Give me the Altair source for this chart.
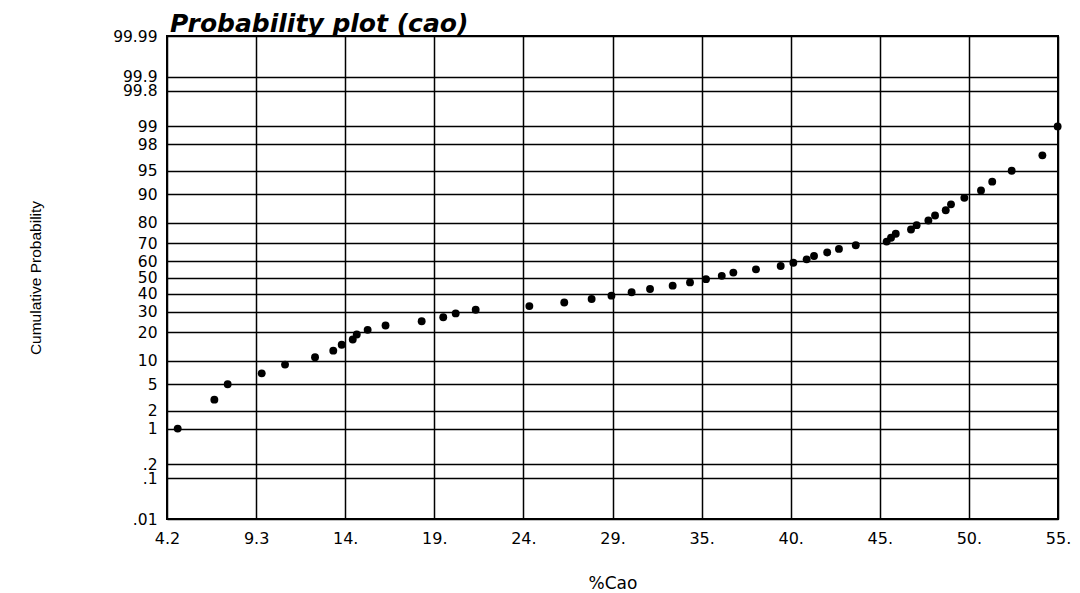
import altair as alt
import pandas as pd
from statistics import NormalDist

# Data (%CaO values and their cumulative probability, %)
cao = [4.81, 6.90, 7.66, 9.60, 10.93, 12.64, 13.68, 14.16, 14.79, 15.02,
       15.64, 16.66, 18.72, 19.95, 20.66, 21.80, 24.86, 26.85, 28.41, 29.54,
       30.69, 31.74, 33.03, 34.02, 34.93, 35.83, 36.49, 37.78, 39.19, 39.91,
       40.67, 41.09, 41.84, 42.51, 43.47, 45.23, 45.48, 45.75, 46.62, 46.94,
       47.61, 47.99, 48.60, 48.90, 49.66, 50.61, 51.25, 52.36, 54.11, 54.98]
cum_prob = [1, 3, 5, 7, 9, 11, 13, 15, 17, 19,
            21, 23, 25, 27, 29, 31, 33, 35, 37, 39,
            41, 43, 45, 47, 49, 51, 53, 55, 57, 59,
            61, 63, 65, 67, 69, 71, 73, 75, 77, 79,
            81, 83, 85, 87, 89, 91, 93, 95, 97, 99]

# Axis ticks
x_ticks = [4.2, 9.28, 14.36, 19.44, 24.52, 29.6, 34.68, 39.76, 44.84, 49.92, 55.0]
x_labels = ["4.2", "9.3", "14.", "19.", "24.", "29.", "35.", "40.", "45.", "50.", "55."]
y_ticks = [0.01, 0.1, 0.2, 1, 2, 5, 10, 20, 30, 40, 50, 60, 70, 80, 90, 95, 98, 99, 99.8, 99.9, 99.99]
y_labels = [".01", ".1", ".2", "1", "2", "5", "10", "20", "30", "40", "50", "60", "70",
            "80", "90", "95", "98", "99", "99.8", "99.9", "99.99"]
title_text = ["Probability plot (cao)"]

nd = NormalDist()
z = [nd.inv_cdf(p / 100.0) for p in cum_prob]
y_tick_z = [nd.inv_cdf(p / 100.0) for p in y_ticks]
zmax = nd.inv_cdf(0.9999)

df = pd.DataFrame({"cao": cao, "prob": cum_prob, "z": z})
tdf = pd.DataFrame({"t": title_text})


def label_expr(vals, labels, tol):
    expr = "''"
    for v, l in reversed(list(zip(vals, labels))):
        expr = f"abs(datum.value - ({v:.5f})) < {tol} ? '{l}' : ({expr})"
    return expr


W, H = 891, 483
LEFT, TOP = 167, 36

points = alt.Chart(df).mark_point(
    filled=True, shape="circle", size=62, color="black", opacity=1
).encode(
    x=alt.X("cao:Q",
            scale=alt.Scale(domain=[4.2, 55.0], nice=False, zero=False),
            axis=alt.Axis(values=x_ticks,
                          labelExpr=label_expr(x_ticks, x_labels, 0.01),
                          title="%Cao", grid=True, domain=False, ticks=False,
                          labelPadding=11, labelFontSize=16, labelFont="DejaVu Sans",
                          labelColor="black", labelOverlap=False, labelFlush=False,
                          titleFont="DejaVu Sans", titleFontSize=17, titleFontWeight="normal",
                          titleColor="black", titleBaseline="middle", titleY=64,
                          titleX=W / 2)),
    y=alt.Y("z:Q",
            scale=alt.Scale(domain=[-zmax, zmax], nice=False, zero=False),
            axis=alt.Axis(values=y_tick_z,
                          labelExpr=label_expr(y_tick_z, y_labels, 0.001),
                          title="Cumulative Probability", grid=True, domain=False, ticks=False,
                          labelPadding=10, labelFontSize=15.5, labelFont="DejaVu Sans",
                          labelColor="black", labelOverlap=False, labelFlush=False,
                          labelBaseline="middle",
                          titleFont="Liberation Sans Narrow, Liberation Sans", titleFontSize=15.5,
                          titleFontWeight="normal", titleColor="black",
                          titleAngle=-90, titleAlign="center", titleBaseline="middle",
                          titleX=-132, titleY=H / 2)),
)

title = alt.Chart(tdf).mark_text(
    align="left", baseline="alphabetic", font="DejaVu Sans", fontSize=25,
    fontWeight="bold", fontStyle="italic", color="black"
).encode(
    text="t:N", x=alt.value(3), y=alt.value(-4)
)

chart = alt.layer(points, title).properties(
    width=W, height=H,
    autosize=alt.AutoSizeParams(type="none"),
    padding={"left": LEFT, "top": TOP, "right": 1080 - LEFT - W, "bottom": 593 - TOP - H},
    background="white",
).configure_view(
    stroke="black", strokeWidth=2
).configure_axis(
    gridColor="black", gridWidth=1.5, gridOpacity=1
)

chart.save("out.html", embed_options={"renderer": "svg", "actions": False})
